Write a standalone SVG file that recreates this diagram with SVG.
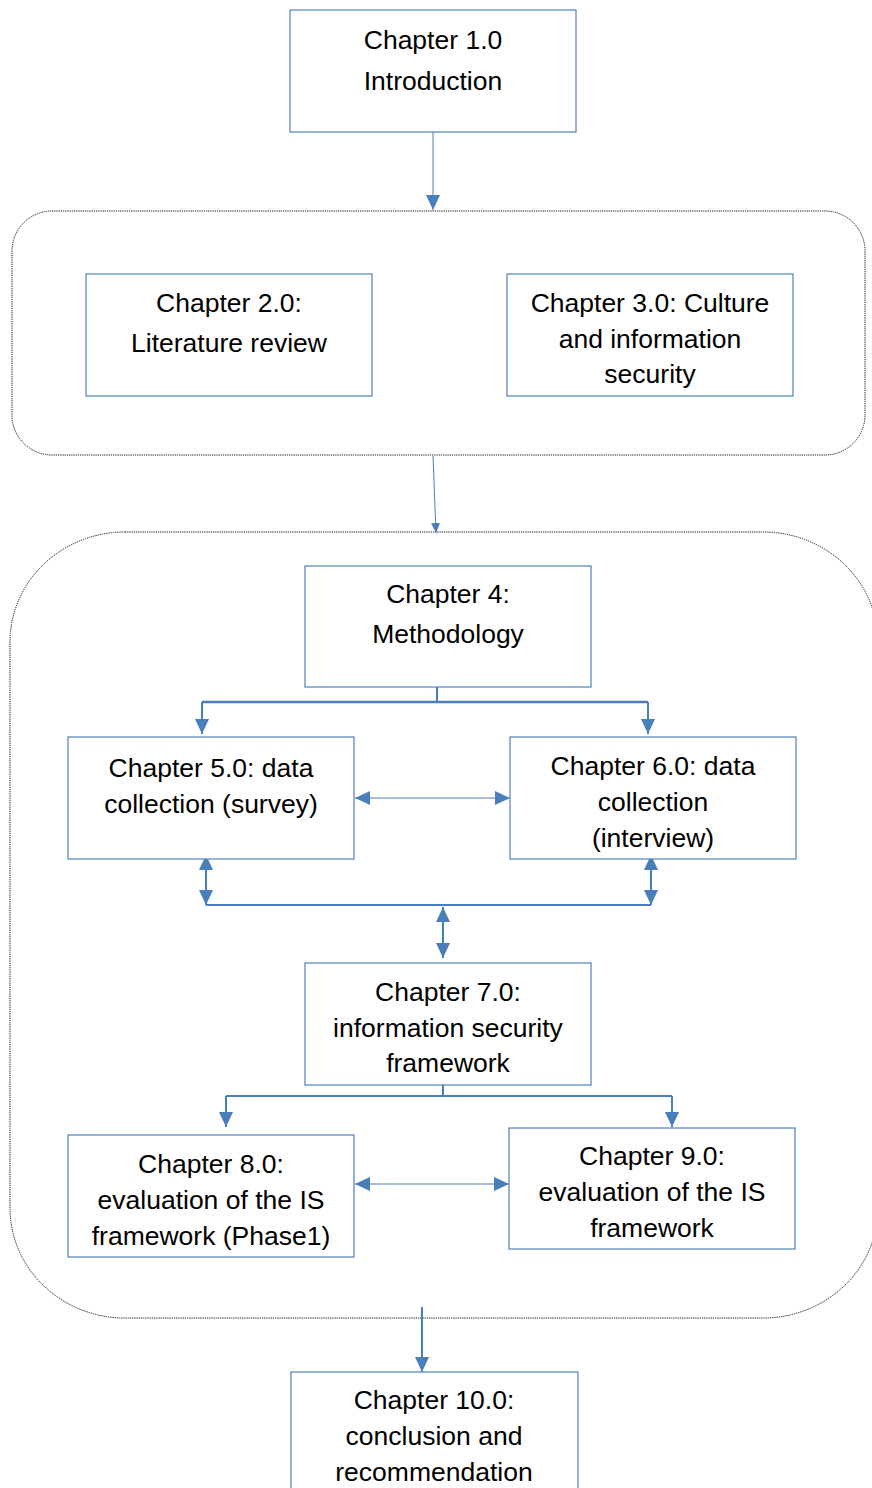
<svg xmlns="http://www.w3.org/2000/svg" width="872" height="1488" viewBox="0 0 872 1488">
  <style>
    .box { fill: #ffffff; stroke: #4f81bd; stroke-width: 1.2; }
    .grp { fill: none; stroke: #111111; stroke-width: 1; stroke-dasharray: 1.2 1; }
    .lbl { font-family: "Liberation Sans", Arial, sans-serif; font-size: 26.5px; fill: #000000; text-anchor: middle; }
    .ln { fill: none; stroke: #4a7ebb; }
    .thin { stroke-width: 1; }
    .mid { stroke-width: 2; }
    .thick { stroke-width: 2.5; }
  </style>
  <defs>
    <marker id="ah" viewBox="0 0 15 14" refX="15" refY="7" markerWidth="15" markerHeight="14" markerUnits="userSpaceOnUse" orient="auto-start-reverse">
      <path d="M0,0 L15,7 L0,14 z" fill="#4a7ebb"/>
    </marker>
    <marker id="ahs" viewBox="0 0 10 9" refX="10" refY="4.5" markerWidth="10" markerHeight="9" markerUnits="userSpaceOnUse" orient="auto-start-reverse">
      <path d="M0,0 L10,4.5 L0,9 z" fill="#4a7ebb"/>
    </marker>
  </defs>

  <!-- dotted grouping frames -->
  <g id="group-review">
    <rect class="grp" x="12" y="211" width="853" height="244" rx="40" ry="40"/>
  </g>
  <g id="group-research">
    <rect class="grp" x="10" y="532" width="868" height="786" rx="115" ry="110"/>
  </g>

  <!-- connectors -->
  <g id="connectors">
    <line class="ln thin" x1="433" y1="132" x2="433" y2="210" marker-end="url(#ah)"/>
    <line class="ln thin" x1="433" y1="456" x2="436" y2="533" marker-end="url(#ahs)"/>

    <!-- methodology fan-out -->
    <polyline class="ln mid" points="437,687 437,702"/>
    <polyline class="ln thick" points="202,702 648,702"/>
    <line class="ln mid" x1="202" y1="702" x2="202" y2="734" marker-end="url(#ah)"/>
    <line class="ln mid" x1="648" y1="702" x2="648" y2="734" marker-end="url(#ah)"/>

    <!-- survey / interview link -->
    <line class="ln thin" x1="355" y1="798" x2="510" y2="798" marker-start="url(#ah)" marker-end="url(#ah)"/>

    <!-- data collection merge into chapter 7 -->
    <line class="ln mid" x1="206" y1="855" x2="206" y2="905" marker-start="url(#ah)" marker-end="url(#ah)"/>
    <line class="ln mid" x1="651" y1="855" x2="651" y2="905" marker-start="url(#ah)" marker-end="url(#ah)"/>
    <line class="ln mid" x1="206" y1="905" x2="651" y2="905"/>
    <line class="ln mid" x1="443" y1="907" x2="443" y2="958" marker-start="url(#ah)" marker-end="url(#ah)"/>

    <!-- framework fan-out -->
    <line class="ln mid" x1="443" y1="1085" x2="443" y2="1096"/>
    <line class="ln mid" x1="226" y1="1096" x2="672" y2="1096"/>
    <line class="ln mid" x1="226" y1="1096" x2="226" y2="1127" marker-end="url(#ah)"/>
    <line class="ln mid" x1="672" y1="1096" x2="672" y2="1127" marker-end="url(#ah)"/>

    <!-- evaluation link -->
    <line class="ln thin" x1="355" y1="1184" x2="509" y2="1184" marker-start="url(#ah)" marker-end="url(#ah)"/>

    <!-- to conclusion -->
    <line class="ln mid" x1="422" y1="1307" x2="422" y2="1372" marker-end="url(#ah)"/>
  </g>

  <!-- chapter nodes -->
  <g id="ch1">
    <rect class="box" x="290" y="10" width="286" height="122"/>
    <text class="lbl" x="433" y="49">Chapter 1.0</text>
    <text class="lbl" x="433" y="90">Introduction</text>
  </g>
  <g id="ch2">
    <rect class="box" x="86" y="274" width="286" height="122"/>
    <text class="lbl" x="229" y="312">Chapter 2.0:</text>
    <text class="lbl" x="229" y="352">Literature review</text>
  </g>
  <g id="ch3">
    <rect class="box" x="507" y="274" width="286" height="122"/>
    <text class="lbl" x="650" y="312">Chapter 3.0: Culture</text>
    <text class="lbl" x="650" y="348">and information</text>
    <text class="lbl" x="650" y="383">security</text>
  </g>
  <g id="ch4">
    <rect class="box" x="305" y="566" width="286" height="121"/>
    <text class="lbl" x="448" y="603">Chapter 4:</text>
    <text class="lbl" x="448" y="643">Methodology</text>
  </g>
  <g id="ch5">
    <rect class="box" x="68" y="737" width="286" height="122"/>
    <text class="lbl" x="211" y="777">Chapter 5.0: data</text>
    <text class="lbl" x="211" y="813">collection (survey)</text>
  </g>
  <g id="ch6">
    <rect class="box" x="510" y="737" width="286" height="122"/>
    <text class="lbl" x="653" y="775">Chapter 6.0: data</text>
    <text class="lbl" x="653" y="811">collection</text>
    <text class="lbl" x="653" y="847">(interview)</text>
  </g>
  <g id="ch7">
    <rect class="box" x="305" y="963" width="286" height="122"/>
    <text class="lbl" x="448" y="1001">Chapter 7.0:</text>
    <text class="lbl" x="448" y="1037">information security</text>
    <text class="lbl" x="448" y="1072">framework</text>
  </g>
  <g id="ch8">
    <rect class="box" x="68" y="1135" width="286" height="122"/>
    <text class="lbl" x="211" y="1173">Chapter 8.0:</text>
    <text class="lbl" x="211" y="1209">evaluation of the IS</text>
    <text class="lbl" x="211" y="1245">framework (Phase1)</text>
  </g>
  <g id="ch9">
    <rect class="box" x="509" y="1128" width="286" height="121"/>
    <text class="lbl" x="652" y="1165">Chapter 9.0:</text>
    <text class="lbl" x="652" y="1201">evaluation of the IS</text>
    <text class="lbl" x="652" y="1237">framework</text>
  </g>
  <g id="ch10">
    <rect class="box" x="291" y="1372" width="287" height="130"/>
    <text class="lbl" x="434" y="1409">Chapter 10.0:</text>
    <text class="lbl" x="434" y="1445">conclusion and</text>
    <text class="lbl" x="434" y="1481">recommendation</text>
  </g>
</svg>
